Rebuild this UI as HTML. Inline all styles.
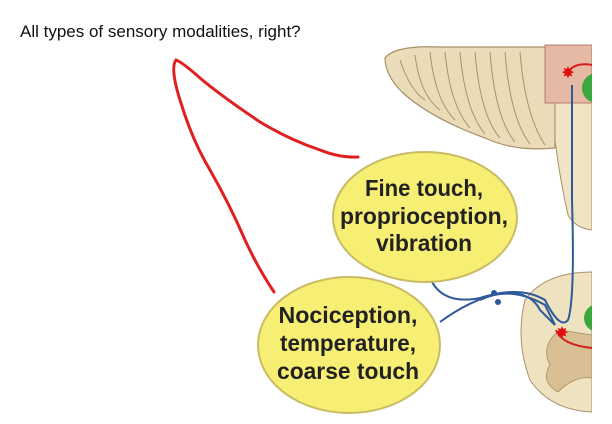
<!DOCTYPE html><html><head><style>body{margin:0;background:#fff;width:612px;height:424px;overflow:hidden;position:relative;font-family:"Liberation Sans",sans-serif}
.t{position:absolute;left:20px;top:22px;font-size:17px;color:#111}</style></head><body>
<div class="t">All types of sensory modalities, right?</div>
<svg width="612" height="424" style="position:absolute;left:0;top:0">
<defs><clipPath id="c"><rect x="0" y="0" width="592" height="424"/></clipPath></defs>
<g clip-path="url(#c)">
<path d="M385,58 Q395,45 440,47 L555,47 L555,148 Q515,152 485,138 Q430,118 402,92 Q385,75 385,58Z" fill="#eadcb8" stroke="#a8916a" stroke-width="1.2"/>
<g stroke="#a8916a" stroke-width="1" fill="none">
<path d="M400,60 Q410,90 425,100"/><path d="M415,55 Q420,95 440,110"/><path d="M430,52 Q435,100 455,120"/><path d="M445,52 Q450,105 470,128"/><path d="M460,52 Q465,110 485,134"/><path d="M475,52 Q480,115 500,138"/><path d="M490,52 Q495,118 515,142"/><path d="M505,52 Q510,118 530,144"/><path d="M520,52 Q525,115 545,145"/></g>
<path d="M555,48 L592,48 L592,230 Q575,228 568,215 Q560,180 555,140Z" fill="#f0e4c4" stroke="#a8916a"/>
<rect x="545" y="45" width="47" height="58" fill="#e6b9a4" stroke="#b08070"/>
<circle cx="597" cy="88" r="15" fill="#3aa83a"/>
<path d="M592,272 Q545,272 525,300 Q515,340 530,380 Q550,410 592,412Z" fill="#efe2c0" stroke="#a8916a"/>
<path d="M560,330 Q540,345 550,365 Q540,382 558,392 Q575,375 592,378 L592,335Z" fill="#d9bf94" stroke="#b09a70"/>
<circle cx="598" cy="318" r="14" fill="#3aa83a"/>
<g stroke="#2f5a9a" stroke-width="2" fill="none">
<path d="M432,282 Q445,305 480,298 Q520,285 545,300 Q560,330 568,320 Q575,300 572,200 L572,85"/>
<path d="M440,322 Q470,300 500,293 Q530,290 540,310 L555,325"/>
<path d="M480,300 Q510,285 545,305 L555,325"/></g>
<circle cx="494" cy="293" r="3" fill="#2f5a9a"/><circle cx="498" cy="302" r="3" fill="#2f5a9a"/>
<path d="M592,65 Q575,62 568,72" stroke="#d42020" stroke-width="2" fill="none"/>
<path d="M556,330 Q562,345 592,348" stroke="#d42020" stroke-width="2" fill="none"/>
<text x="568" y="78" fill="#e01010" font-size="16" text-anchor="middle">✸</text>
<text x="562" y="338" fill="#e01010" font-size="16" text-anchor="middle">✸</text>
</g>
<ellipse cx="425" cy="217" rx="92" ry="65" fill="#f7ef74" stroke="#c9bb64" stroke-width="2"/>
<ellipse cx="349" cy="345" rx="91" ry="68" fill="#f7ef74" stroke="#c9bb64" stroke-width="2"/>
<g font-family="Liberation Sans,sans-serif" font-weight="bold" font-size="23" fill="#222" text-anchor="middle">
<text x="424" y="196" textLength="118" lengthAdjust="spacingAndGlyphs">Fine touch,</text><text x="424" y="224" textLength="168" lengthAdjust="spacingAndGlyphs">proprioception,</text><text x="424" y="251" textLength="96" lengthAdjust="spacingAndGlyphs">vibration</text>
<text x="348" y="323" textLength="139" lengthAdjust="spacingAndGlyphs">Nociception,</text><text x="348" y="351" textLength="136" lengthAdjust="spacingAndGlyphs">temperature,</text><text x="348" y="379" textLength="142" lengthAdjust="spacingAndGlyphs">coarse touch</text></g>
<path d="M358,157 Q340,158 320,150 Q290,140 260,122 Q220,95 200,78 Q182,62 176,60 Q170,68 180,100 Q192,140 210,170 Q230,205 245,240 Q258,268 274,292" stroke="#e02020" stroke-width="3" fill="none" stroke-linecap="round"/>
</svg></body></html>
